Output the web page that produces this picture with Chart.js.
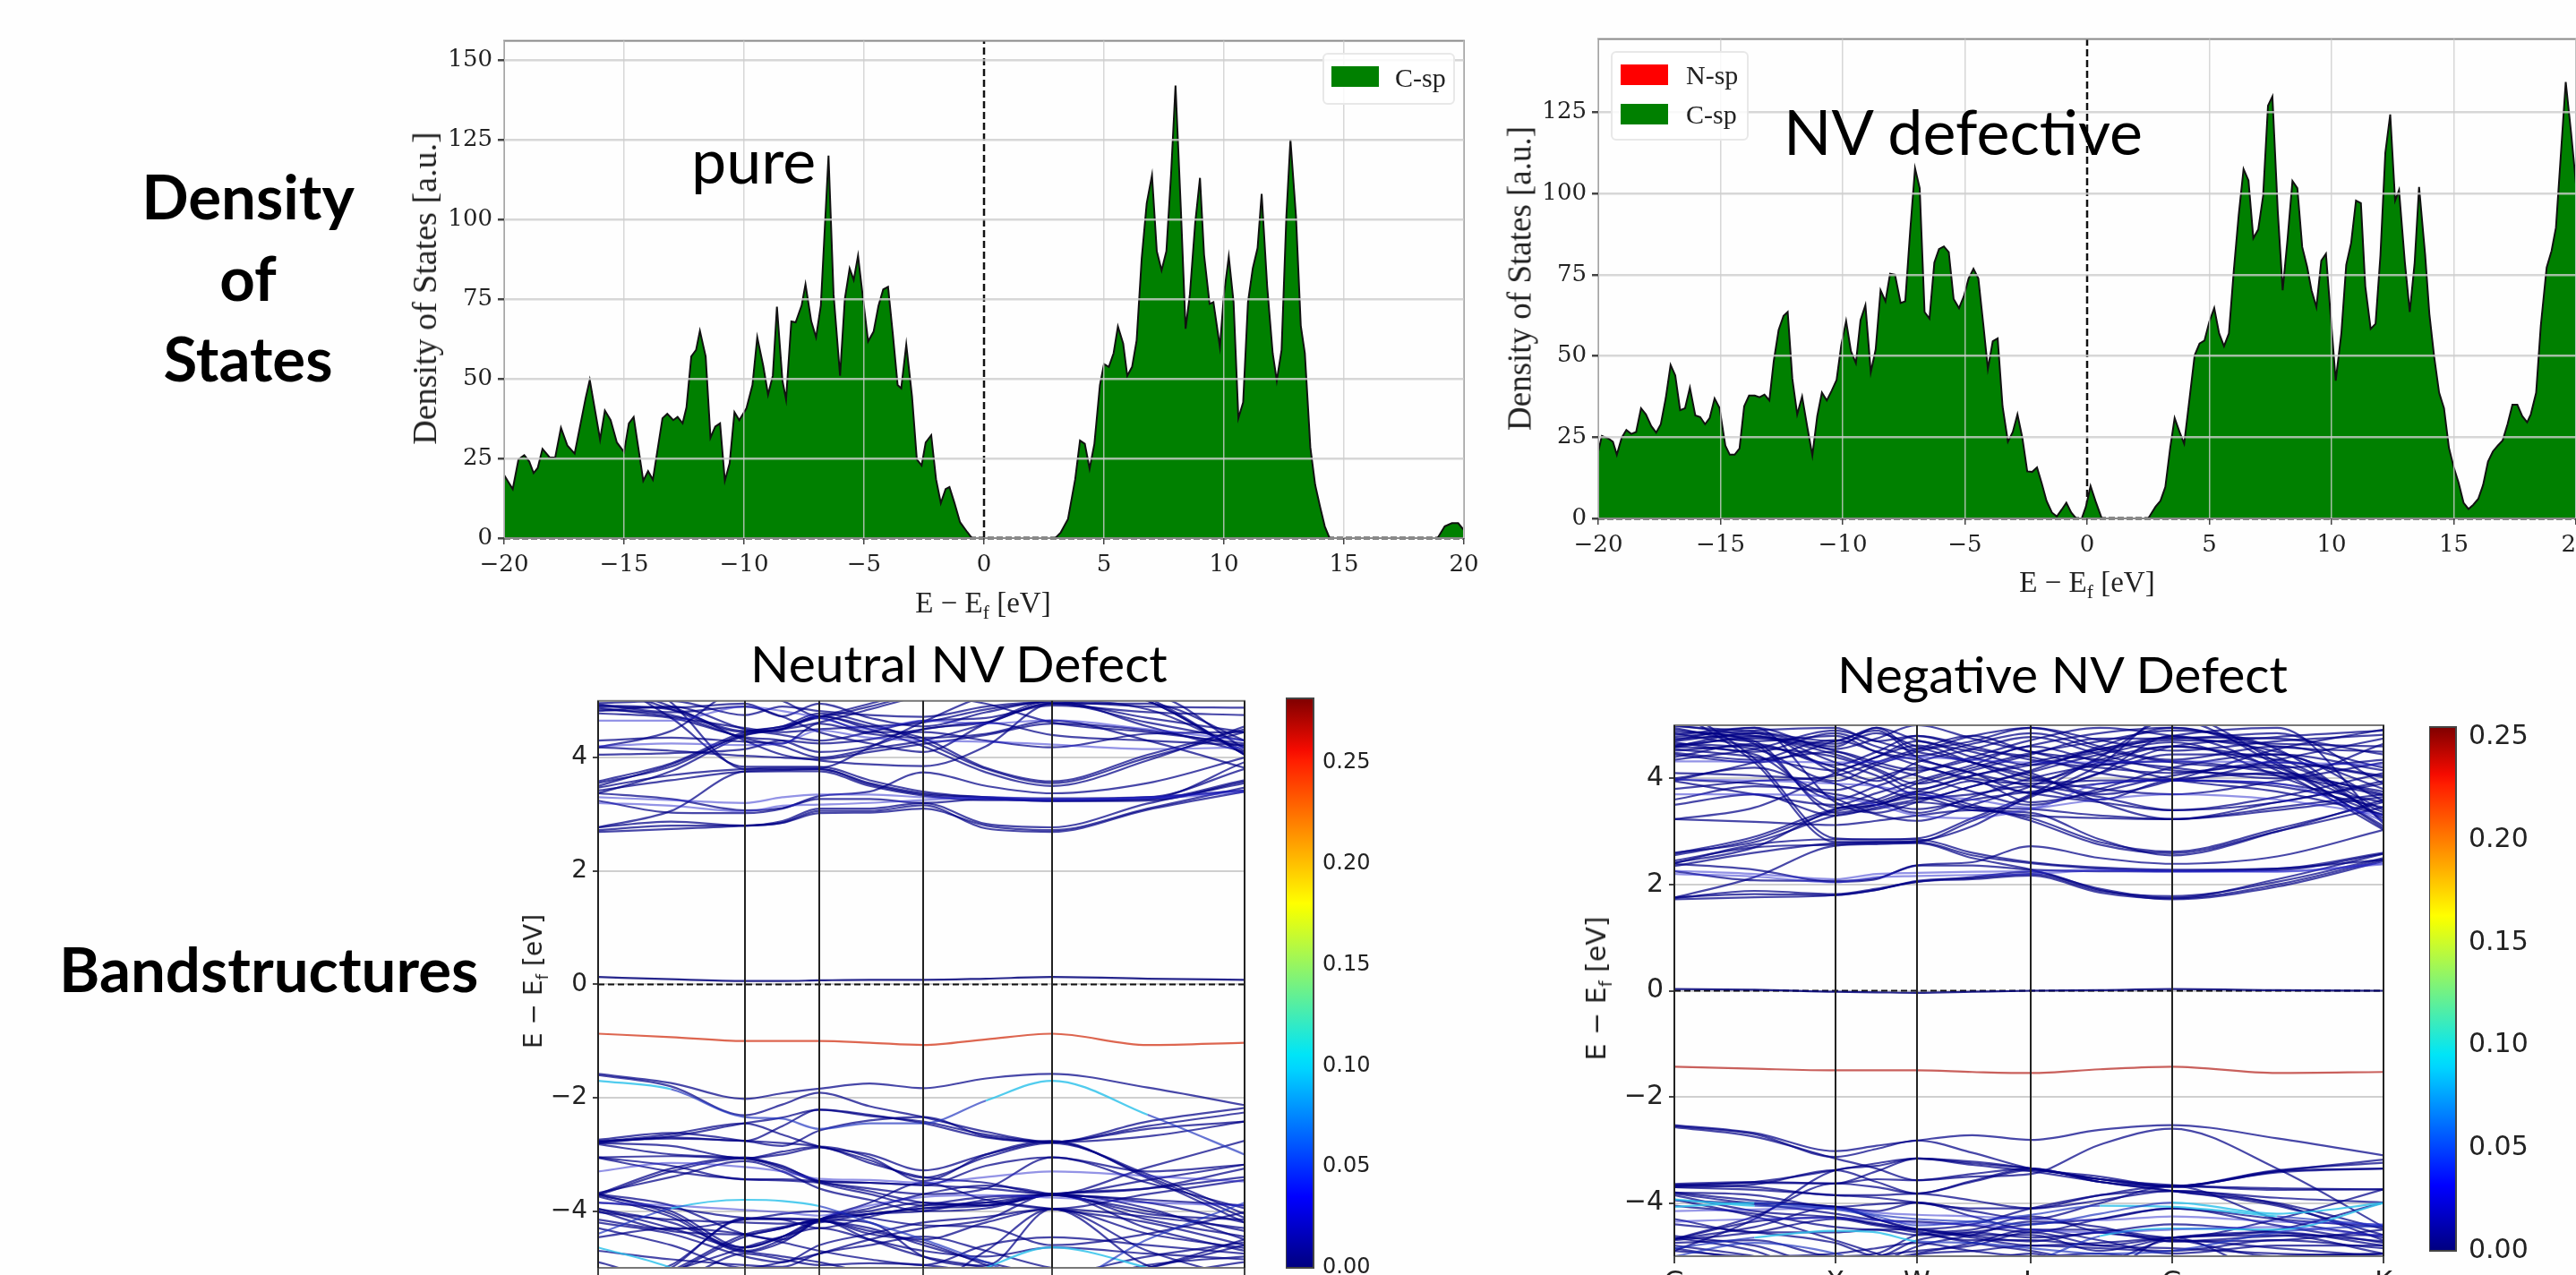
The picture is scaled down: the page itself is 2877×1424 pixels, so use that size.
<!DOCTYPE html>
<html>
<head>
<meta charset="utf-8">
<script src="https://cdn.jsdelivr.net/npm/chart.js@4/dist/chart.umd.min.js"></script>
<style>
  html, body { margin: 0; padding: 0; width: 2877px; height: 1424px; overflow: hidden; background: #fefefe; }
  canvas { position: absolute; }
  .note { position: absolute; color: #000; white-space: nowrap; font-family: Lato, sans-serif; line-height: 1; z-index: 5; }
  .side { font-weight: 700; font-size: 69px; text-align: center; }
  .head { font-size: 57px; }
  .inset { font-size: 70px; }
  .axis { font-family: "Liberation Serif", serif; font-size: 33px; color: #222; }
  .axis-y { font-size: 38px; }
  .axis2 { font-family: "DejaVu Sans", sans-serif; font-size: 28px; color: #222; }
  .rot { transform: translate(-50%, -50%) rotate(-90deg); }
  .mid { transform: translate(-50%, -50%); }
  sub { font-size: 65%; line-height: 0; }
  .legend { position: absolute; z-index: 4; background: rgba(255,255,255,.85); border: 2px solid #e8e8e8; border-radius: 6px; }
  .swatch { position: absolute; width: 53px; height: 23px; }
  .entry { position: absolute; font-family: "Liberation Serif", serif; font-size: 30px; line-height: 1; color: #222; }
</style>
</head>
<body>
<div class="note side" style="left:277px;top:184px;transform:translateX(-50%)">Density</div>
<div class="note side" style="left:277px;top:275px;transform:translateX(-50%)">of</div>
<div class="note side" style="left:277px;top:365px;transform:translateX(-50%)">States</div>
<div class="note side" style="left:66px;top:1047px">Bandstructures</div>

<div class="note inset" style="left:772px;top:143px">pure</div>
<div class="note inset" style="left:1992px;top:111px">NV defective</div>
<div class="note head" style="left:838px;top:712px">Neutral NV Defect</div>
<div class="note head" style="left:2052px;top:724px">Negative NV Defect</div>

<div class="note axis axis-y rot" style="left:474px;top:322px">Density of States [a.u.]</div>
<div class="note axis mid" style="left:1098px;top:673px">E − E<sub>f</sub> [eV]</div>
<div class="note axis axis-y rot" style="left:1697px;top:311px;font-size:37px">Density of States [a.u.]</div>
<div class="note axis mid" style="left:2331px;top:650px">E − E<sub>f</sub> [eV]</div>
<div class="note axis2 rot" style="left:596px;top:1096px">E − E<sub>f</sub> [eV]</div>
<div class="note axis2 rot" style="left:1783px;top:1104px;font-size:30px">E − E<sub>f</sub> [eV]</div>

<div class="legend" style="left:1477px;top:59px;width:144px;height:54px">
  <div class="swatch" style="left:8px;top:13px;background:#008000"></div>
  <div class="entry" style="left:79px;top:11px">C-sp</div>
</div>
<div class="legend" style="left:1799px;top:57px;width:150px;height:96px">
  <div class="swatch" style="left:9px;top:13px;background:#ff0000"></div>
  <div class="entry" style="left:82px;top:10px">N-sp</div>
  <div class="swatch" style="left:9px;top:57px;background:#008000"></div>
  <div class="entry" style="left:82px;top:54px">C-sp</div>
</div>

<script>
// density of states
const pureEnergy = [-20,-19.64,-19.4,-19.16,-18.95,-18.77,-18.6,-18.4,-18.1,-17.87,-17.63,-17.36,-17.06,-16.6,-16.43,-16,-15.8,-15.56,-15.3,-15,-14.8,-14.6,-14.2,-14,-13.8,-13.4,-13.2,-12.95,-12.77,-12.56,-12.4,-12.2,-12,-11.84,-11.6,-11.4,-11.2,-11,-10.8,-10.6,-10.4,-10.2,-9.9,-9.65,-9.45,-9.2,-9,-8.8,-8.63,-8.4,-8.25,-8.03,-7.85,-7.6,-7.44,-7.2,-7,-6.8,-6.48,-6.27,-6,-5.8,-5.6,-5.43,-5.25,-5.04,-4.83,-4.6,-4.4,-4.2,-4,-3.8,-3.6,-3.45,-3.24,-3,-2.8,-2.6,-2.43,-2.2,-2,-1.8,-1.6,-1.44,-1.23,-1,-0.7,-0.5,2.97,3.2,3.5,3.8,4,4.2,4.4,4.6,4.83,5,5.2,5.4,5.58,5.8,5.97,6.17,6.36,6.57,6.78,7,7.2,7.4,7.6,7.8,7.98,8.2,8.4,8.58,8.8,9,9.17,9.4,9.56,9.83,10,10.2,10.4,10.6,10.8,11,11.2,11.4,11.57,11.8,12.03,12.2,12.4,12.6,12.77,13,13.2,13.37,13.6,13.8,14,14.2,14.4,18.9,19.2,19.5,19.76,20];
const pureDos = [19.8,15.4,24.7,26,24,20.4,22,28,25.3,25.3,34.6,29,26.5,44,49.6,30.9,40,37,30,27,36,38,18,21,18.3,37.6,39,37,38,36,41,57,59,65,57,31.5,35,36,18,23.5,39.5,37,40.7,48,63,54,45,51,72.6,49.4,43.5,68,67.7,73,79.6,68,63,73,120,76.5,50.9,75,84.6,81,88.6,75,61.7,64.8,72.8,78,78.8,64,48,47,60.7,44.4,24.7,22.8,30,32.3,18.5,11,15.4,16,11,5,1.9,0,0,1.8,6,18.5,30.6,29.6,21.8,29.6,48,54.6,53.7,58,66.4,61,50.9,53.7,62,87.6,105,113.8,90,84,90,114.8,142,103.7,65.7,76.5,98.8,113,88.9,73.5,74,60,76.5,88.3,74,37.6,42.6,74,84.6,91,108,79,58,49.4,59,101,125,101,66.7,58,28.4,16.7,10,3.7,0,0,3.7,4.7,4.7,2.5];

const nvEnergy = [-20,-19.85,-19.55,-19.4,-19.24,-19.04,-18.85,-18.65,-18.45,-18.25,-18.05,-17.83,-17.63,-17.44,-17.24,-17.04,-16.85,-16.65,-16.45,-16.25,-16.03,-15.83,-15.63,-15.44,-15.24,-15.04,-14.8,-14.62,-14.42,-14.22,-14.03,-13.83,-13.6,-13.4,-13.2,-13,-12.82,-12.62,-12.42,-12.25,-12.06,-11.86,-11.66,-11.44,-11.24,-11.04,-10.85,-10.65,-10.45,-10.25,-10.06,-9.86,-9.66,-9.46,-9.27,-9.07,-8.85,-8.65,-8.45,-8.25,-8.06,-7.86,-7.63,-7.44,-7.24,-7.04,-6.85,-6.65,-6.45,-6.25,-6.06,-5.86,-5.66,-5.46,-5.24,-5.04,-4.85,-4.65,-4.45,-4.25,-4.06,-3.86,-3.66,-3.46,-3.24,-3.04,-2.85,-2.65,-2.45,-2.25,-2.05,-1.86,-1.66,-1.44,-1.24,-1.04,-0.85,-0.65,-0.45,-0.22,-0.05,0.14,0.34,0.6,2.5,2.8,3,3.2,3.4,3.58,3.78,3.97,4.2,4.4,4.6,4.8,5,5.2,5.4,5.6,5.8,6,6.2,6.4,6.6,6.8,7,7.2,7.4,7.58,7.8,8,8.2,8.4,8.6,8.8,9,9.18,9.38,9.58,9.77,9.97,10.17,10.4,10.6,10.8,11,11.2,11.38,11.6,11.8,12,12.2,12.4,12.6,12.76,13,13.2,13.4,13.58,13.83,14,14.2,14.4,14.6,14.8,15,15.2,15.4,15.6,15.8,16,16.2,16.4,16.6,16.8,17,17.2,17.4,17.6,17.8,18,18.15,18.37,18.56,18.8,19,19.18,19.58,19.8,20];
const nvDos = [20.6,25.4,24.4,23.6,19.6,24.8,27.2,26,26.6,33.9,32,28.4,26.4,29,36.9,47.2,44,33.3,33.9,40.2,31.7,31.2,29,30.9,36.9,34,22.4,19.6,19.6,21.5,34.5,37.8,37.8,37.3,38.1,36.3,48.4,58,62.3,63.5,43,32,37.5,27.8,19.4,31.5,38.7,36.3,39.3,42.6,53.2,60.7,51.4,47.8,61,65.6,45,52,70.2,66.8,75.3,75,66.3,66.8,88.3,107.7,101.6,63.5,61.5,78.7,82.9,83.7,81.9,67.5,64.7,68.4,73.8,76.8,73.8,59.9,46,54.5,55.4,34.5,23.6,26.6,32,24.8,14.5,14.3,15.7,10.9,5.4,1.8,0.6,2.7,4.8,1.8,0,0,3.6,10,5.4,0,0,3.6,5.4,9.7,21.8,30.9,26.6,23,37.5,50.2,53.8,54.7,60.5,64.7,56.9,53,56.9,76.2,93.2,107.5,104,86.2,88.9,99.2,127,129.8,94.4,70.2,85.9,103.8,101.6,83.5,77.4,70.2,65,79.3,81.4,61.7,42.4,56.9,78,84.7,97.8,97,71.4,58.3,59.9,81,112.5,124.3,97.8,101,78.7,63.5,78.7,102,81,63,49.6,38.7,33.9,21.8,15.7,10.9,4.8,2.9,4.2,6,10.3,17.5,20.6,22.4,24,29,35,35,31.5,29.6,32,38.7,59.3,77.2,82.3,89.5,134.3,118.6,102.9];

const nitrogenEnergy = [-20,-1.2,-0.85,-0.5,5.8,6.2,6.6,20];
const nitrogenDos = [0.2,0,1.5,0,0,0.6,0,0];

const dosTicks = [-20,-15,-10,-5,0,5,10,15,20];
const pureYTicks = [0,25,50,75,100,125,150];
const nvYTicks = [0,25,50,75,100,125];

// band structures: energy at each k sample on the path G X W L G K
const kNodes = [0,0.227,0.342,0.503,0.702,1];
const kLabels = ['G','X','W','L','G','K'];
const kSamples = [0,0.113,0.227,0.285,0.342,0.42,0.503,0.6,0.702,0.85,1];
const bandTicks = [-4,-2,0,2,4];

const neutralGapBand = [-0.87,-0.93,-1,-1,-1,-1.03,-1.07,-0.97,-0.87,-1.07,-1.03];
const neutralDefectBand = [0.13,0.09,0.06,0.06,0.07,0.08,0.08,0.1,0.13,0.1,0.08];
const negativeGapBand = [-1.43,-1.47,-1.5,-1.5,-1.5,-1.53,-1.55,-1.48,-1.43,-1.55,-1.53];
const negativeDefectBand = [0.03,0.02,-0.02,-0.03,-0.04,-0.02,0,0.01,0.03,0.01,0];

const neutralBands = [
  [2.77,3.06,3.76,3.78,3.8,3.53,3.35,3.28,3.23,3.24,3.58],
  [2.69,2.74,2.8,2.85,3.06,3.06,3.16,2.75,2.69,3.08,3.4],
  [2.77,2.87,2.8,2.85,3.02,3.03,3.1,2.8,2.72,3.1,3.47],
  [2.72,2.8,2.8,2.88,3.1,3.1,3.2,2.83,2.77,3.19,3.55],
  [3.24,3.03,3.02,3.1,3.32,3.4,3.74,3.5,3.37,3.55,4],
  [3.37,3.27,3.07,3.11,3.27,3.27,3.2,3.27,3.25,3.27,3.92],
  [3.47,3.69,3.8,3.82,3.82,4.18,4.63,5.1,5.4,5,4.05],
  [3.37,3.76,4.39,4.5,4.73,4.55,4.34,3.82,3.58,4.05,4.5],
  [3.5,3.88,4.4,4.52,4.73,4.5,4.2,3.74,3.5,3.95,4.55],
  [3.58,3.9,4.45,4.55,4.78,4.6,4.28,3.8,3.55,4,4.45],
  [3.55,3.84,4.42,4.5,4.7,4.45,4.45,4.3,4.18,4.42,4.45],
  [5.9,4.97,3.8,3.8,3.8,3.55,3.37,3.3,3.24,3.26,3.6],
  [5.5,4.7,3.84,3.84,3.84,3.6,3.4,3.3,3.28,3.3,3.8],
  [3.42,3.6,3.75,3.76,3.76,3.5,3.33,3.25,3.25,3.3,3.42],
  [4.18,4.47,5.2,5,4.73,4.9,5.1,4.95,4.62,4.45,4.25],
  [4.18,4.12,4.03,4,3.97,4.1,4.24,4.4,4.6,4.48,4.2],
  [5.4,4.9,4.47,4.55,4.72,4.95,5.2,5.4,5.5,5.05,4.05],
  [5.3,4.85,4.45,4.5,4.62,4.85,5.1,5.3,5.4,5,4.07],
  [4.94,4.8,4.9,4.72,4.45,4.25,4.1,4.6,5,4.55,4.1],
  [4.9,4.88,4.95,4.73,4.95,4.7,4.55,4.8,5,4.85,4.12],
  [4.96,5,4.75,4.9,4.82,4.75,4.72,4.9,5,5.1,4.16],
  [4.85,4.75,4.34,4.2,4,4.15,4.3,4.6,4.95,4.95,4.3],
  [4.78,4.7,4.36,4.3,4.1,4.2,4.5,4.62,4.96,4.7,4.45],
  [4.82,4.9,4.5,4.4,4.3,4.45,4.65,4.7,4.92,4.8,4.75],
  [4.88,4.72,4.52,4.45,4.5,4.55,4.62,4.85,4.98,4.9,4.88],
  [4.92,4.85,4.3,4.05,3.95,3.88,3.85,4.2,4.95,4.62,4.3],
  [4.05,4.08,4.15,4.3,4.25,4.32,4.5,4.62,4.4,4.3,4.22],
  [4.3,4.35,4.28,4.25,4.6,4.42,4.35,4.42,4.65,4.3,3.82],
];
const neutralBandsLight = [
  [4.65,4.65,4.9,4.82,4.7,4.5,4.65,4.6,4.66,4.5,4.3],
  [3.3,3.25,3.2,3.3,3.35,3.35,3.3,3.27,3.25,3.3,3.42],
  [3.2,3.15,3.05,3.15,3.17,3.2,3.25,3.3,3.27,3.28,3.39],
  [4.2,4.25,4.22,4.25,4.48,4.35,4.3,4.28,4.23,4.15,4.18],
];
const neutralValence = [
  [-1.58,-1.74,-2.02,-1.92,-1.84,-1.75,-1.83,-1.66,-1.58,-1.82,-2.13],
  [-1.6,-1.8,-2.31,-2.12,-1.91,-2.15,-2.34,-2.6,-2.78,-2.42,-2.18],
  [-2.78,-2.68,-2.45,-2.35,-2.21,-2.3,-2.45,-2.7,-2.78,-2.5,-2.26],
  [-2.8,-2.7,-2.76,-2.5,-2.21,-2.32,-2.42,-2.65,-2.78,-2.55,-2.42],
  [-2.74,-2.62,-2.76,-2.85,-2.58,-2.4,-2.34,-2.68,-2.78,-2.68,-2.42],
  [-2.78,-2.64,-2.45,-2.65,-2.86,-3,-3.28,-3,-2.78,-3.39,-4.12],
  [-2.76,-2.72,-2.76,-2.8,-2.86,-3.1,-3.41,-3.05,-2.8,-3.35,-4.05],
  [-2.8,-2.85,-3.07,-2.95,-2.86,-3.05,-3.47,-3,-2.76,-3.42,-4.2],
  [-2.82,-3,-3.07,-3.2,-3.47,-3.5,-3.54,-3.2,-3.05,-3.3,-3.18],
  [-3.05,-3.03,-3.07,-3,-2.88,-3.15,-3.4,-3.5,-3.7,-3.23,-2.76],
  [-3.05,-3.2,-3.44,-3.44,-3.47,-3.5,-3.54,-3.6,-3.7,-3.45,-3.18],
  [-3.06,-3.3,-3.44,-3.46,-3.5,-3.6,-3.7,-3.6,-3.05,-3.5,-3.95],
  [-3.7,-3.25,-3.05,-3.22,-3.47,-3.65,-3.85,-3.9,-3.7,-3.6,-3.4],
  [-3.72,-3.3,-3.07,-3.25,-3.5,-3.7,-3.9,-3.85,-3.96,-3.7,-3.45],
  [-3.68,-3.4,-3.12,-3.3,-3.6,-3.8,-4,-3.95,-3.72,-3.85,-4.2],
  [-3.7,-3.9,-4.41,-4.5,-4.15,-3.95,-3.7,-3.55,-3.7,-4,-4.35],
  [-3.72,-4,-4.64,-4.45,-4.15,-3.85,-3.5,-3.8,-3.96,-4.2,-4.6],
  [-3.7,-4.05,-4.7,-4.5,-4.15,-4,-3.85,-3.9,-3.7,-4.3,-4.7],
  [-3.74,-4.1,-4.72,-4.55,-4.17,-4.05,-3.95,-3.85,-3.72,-4.05,-4.15],
  [-3.96,-4.2,-4.64,-4.45,-4.17,-4.35,-4.5,-4.2,-3.96,-4.4,-4.65],
  [-3.96,-4.3,-4.7,-4.8,-4.9,-5.1,-5.3,-4.7,-3.96,-4.7,-5.2],
  [-4,-4.35,-4.41,-4.3,-4.15,-4.2,-4.8,-4.96,-3.96,-4.96,-5.2],
  [-4.46,-4.3,-4.41,-4.55,-4.7,-4.85,-4.95,-4.6,-4.46,-4.6,-4.75],
  [-5.6,-5,-4.12,-4.13,-4.15,-4.5,-4.8,-5,-5.3,-5,-4.5],
  [-5.4,-4.95,-4.14,-4.14,-4.17,-4.3,-4.6,-4.9,-5.1,-4.8,-4.55],
  [-5.5,-5.05,-4.41,-4.28,-4.15,-4.05,-3.95,-3.9,-3.7,-3.95,-4.5],
  [-5.7,-5.1,-4.45,-4.3,-4.17,-4.4,-4.55,-4.95,-5.3,-5,-4.6],
  [-5.3,-5.05,-4.64,-4.45,-4.3,-4.5,-4.7,-4.8,-4.64,-4.75,-4.85],
  [-4.7,-4.85,-4.95,-4.98,-4.75,-4.6,-4.45,-4.7,-5,-5.1,-4.9],
  [-4.9,-5.2,-4.75,-4.85,-4.95,-4.92,-4.95,-5.1,-5.3,-4.95,-4.8],
  [-4.2,-4.4,-4.8,-4.9,-4.6,-4.4,-4.2,-4.1,-3.96,-4.1,-4.3],
  [-4.3,-4.6,-5,-4.9,-4.75,-4.5,-4.3,-4.15,-3.7,-4.15,-4.45],
  [-3.85,-3.95,-4.12,-4.15,-4.3,-4.1,-3.9,-3.75,-3.72,-3.8,-3.9],
  [-4.02,-4.15,-4.2,-4.22,-4.2,-4.05,-4,-3.8,-3.7,-3.6,-3.25],
  [-4.15,-4.32,-4.15,-4.05,-4,-4.12,-4.25,-4.28,-4.6,-4.4,-4.02],
];
const neutralValenceLight = [
  [-3.3,-3.15,-3.22,-3.3,-3.43,-3.45,-3.5,-3.4,-3.3,-3.38,-3.48],
  [-3.85,-3.9,-3.98,-4.02,-4.08,-3.9,-3.75,-3.72,-3.76,-3.85,-3.9],
];
const neutralValenceCyan = [
  [-1.7,-1.85,-2.34,-2.37,-2.55,-2.45,-2.45,-2.05,-1.7,-2.3,-3],
  [-4.4,-3.95,-3.8,-3.82,-3.91,-4.2,-4.5,-4.9,-5.3,-4.5,-3.85],
  [-4.64,-5,-5.6,-5.6,-5.5,-5.6,-5.5,-5,-4.64,-5,-5.5],
];
// 1 where the band leaving that k sample shows the lighter cyan colour
const neutralCyanMask = [
  [1,0,0,0,0,0,0,1,1,0,0],
  [0,1,1,1,0,0,0,0,0,0,0],
  [1,1,0,0,0,0,0,1,1,0,0],
];

const negativeBands = [
  [1.75,2.14,2.73,2.76,2.78,2.5,2.28,1.92,1.75,2.1,2.58],
  [1.72,1.76,1.8,1.9,2.05,2.1,2.17,1.85,1.74,2,2.47],
  [1.76,1.82,1.8,1.9,2.07,2.12,2.2,1.88,1.78,2.05,2.5],
  [1.74,1.88,1.82,1.92,2.05,2.14,2.24,1.9,1.72,1.96,2.44],
  [2.25,2.08,2.07,2.12,2.36,2.42,2.72,2.5,2.39,2.53,3.03],
  [2.39,2.28,2.05,2.1,2.36,2.36,2.28,2.25,2.25,2.27,2.58],
  [2.41,2.7,3.42,3.55,3.75,3.5,3.2,2.75,2.59,3,3.46],
  [2.58,2.9,3.42,3.5,3.7,3.45,3.25,2.8,2.62,3.05,3.55],
  [2.55,2.85,3.38,3.5,3.65,3.4,3.35,2.85,2.55,3,3.6],
  [2.6,2.8,3.3,3.42,3.55,3.45,3.42,3.3,3.23,3.45,3.7],
  [2.45,2.7,2.75,2.78,2.8,3.2,3.65,4.25,5.2,4.3,3.06],
  [2.4,2.75,2.85,2.85,2.87,3.25,3.7,4.4,5.1,4.25,3.1],
  [2.35,2.6,2.78,2.8,2.82,3.1,3.68,4.1,4.8,4.15,3.03],
  [5.4,4.37,2.87,2.85,2.85,2.6,2.42,2.32,2.28,2.3,2.6],
  [5.3,4.3,2.8,2.8,2.8,2.55,2.4,2.3,2.26,2.3,2.47],
  [3.23,3.45,4.1,4.4,4.7,4.4,4.1,3.55,3.23,3.55,3.9],
  [3.23,3.18,3.12,3.2,3.3,3.4,3.3,3.25,3.23,3.4,3.65],
  [3.96,4.3,4.72,4.5,4.25,4,3.9,3.96,3.96,3.9,3.55],
  [3.98,3.9,3.7,3.55,3.42,3.6,3.75,3.9,3.98,4.1,3.7],
  [3.95,3.7,3.5,3.72,3.95,4.25,4.6,4.3,3.98,3.75,3.32],
  [4,4.2,3.62,3.32,3.2,3.5,3.85,4.35,4.6,4.2,3.36],
  [4.6,4.85,4.1,3.85,3.62,3.85,4.15,4.6,4.95,4.4,3.4],
  [4.6,4.45,3.6,3.85,4.1,4.4,4.72,4.95,4.8,4.5,3.8],
  [4.62,4.75,4.45,4.18,3.9,4.15,4.45,4.75,4.75,4.85,3.9],
  [4.55,4.4,4.15,4.4,4.62,4.3,3.95,4.3,4.6,4.35,4.02],
  [4.65,4.55,3.95,4.25,4.5,4.7,4.95,4.6,4.35,4.6,4.2],
  [4.7,4.85,4.6,4.95,4.72,4.5,4.25,4.55,4.77,4.75,4.45],
  [4.85,4.6,4.4,4.15,3.8,4.05,4.3,4.55,4.72,4.65,4.6],
  [4.95,4.7,4.8,4.5,4.35,4.1,3.72,4.1,4.45,4.45,4.15],
  [4.78,4.9,4.95,4.7,4.8,4.55,4.4,4.1,3.96,4.35,4.75],
  [4.35,4.55,4.9,4.7,4.5,4.3,4,3.8,3.7,3.95,4.3],
  [4.4,4.65,4.25,4.5,4.8,4.6,4.35,4.2,4.1,4.3,4.05],
  [3.8,3.95,4.05,4.3,4.55,4.8,4.5,4.35,4.2,4,4.65],
  [3.6,3.85,3.78,4,4.2,3.95,3.72,3.55,3.4,3.55,3.95],
  [3.5,3.7,3.3,3.45,3.6,3.7,3.85,3.65,3.4,3.65,4.1],
  [4.1,4.05,3.9,3.6,3.35,3.65,4,4.25,4.32,4.1,3.75],
  [5,4.8,4.52,4.25,4.05,3.75,3.5,3.8,4.2,4.45,3.58],
  [4.45,4.3,4.7,4.9,4.4,4.1,3.85,3.6,3.96,3.85,3.45],
  [4.75,4.8,4.3,4.05,3.7,3.95,3.55,3.75,4.05,4.25,3.25],
  [4.88,4.7,3.35,3.5,3.75,4.05,4.25,4.5,4.8,4.95,3.15],
  [4.92,4.65,3.45,3.6,3.9,4.2,4.48,4.7,4.9,4.55,3.2],
  [4.72,4.95,3.55,3.35,3.55,3.85,4.12,4.45,4.68,4.05,3.3],
  [4.82,4.95,4.55,4.75,5,4.75,4.5,4.25,4.6,4.78,4.9],
  [4.58,4.78,4.65,4.85,4.6,4.3,4.05,3.7,3.96,4.55,4.92],
  [4.68,4.5,4.85,4.6,4.42,4.65,4.85,4.55,4.3,4.2,4.35],
  [4.48,4.35,4.5,4.3,4.15,4.35,4.62,4.85,4.95,4.6,4.5],
  [4.98,4.88,4.7,4.95,4.55,4.8,4.95,4.72,4.52,4.7,4.82],
  [4.52,4.62,4.2,3.95,4.3,4.55,4.78,4.45,4.15,4.05,3.68],
];
const negativeBandsLight = [
  [4.32,4.32,4.3,4.32,4.4,4.35,4.3,4.3,4.32,4.3,4.25],
  [3.7,3.7,3.65,3.5,3.3,3.25,3.42,3.6,3.7,3.6,3.3],
  [3.98,3.96,3.9,3.85,3.7,3.6,3.45,3.9,3.96,3.9,3.2],
  [2.26,2.2,2.1,2.2,2.22,2.24,2.25,2.28,2.26,2.25,2.4],
  [2.2,2.15,2.04,2.14,2.16,2.18,2.2,2.26,2.24,2.24,2.38],
];
const negativeValence = [
  [-2.53,-2.68,-3.02,-2.92,-2.82,-2.72,-2.81,-2.62,-2.53,-2.78,-3.1],
  [-2.55,-2.7,-3.13,-2.98,-2.82,-3.05,-3.35,-3.5,-3.68,-3.4,-3.18],
  [-2.57,-2.75,-3.16,-3.35,-3.57,-3.5,-3.45,-2.9,-2.6,-3.35,-4.45],
  [-3.66,-3.6,-3.38,-3.25,-3.16,-3.22,-3.35,-3.55,-3.68,-3.38,-3.24],
  [-3.68,-3.62,-3.63,-3.4,-3.16,-3.25,-3.35,-3.55,-3.7,-3.4,-3.35],
  [-3.64,-3.6,-3.63,-3.55,-3.57,-3.45,-3.35,-3.6,-3.68,-3.42,-3.35],
  [-3.7,-3.65,-3.38,-3.6,-3.82,-3.6,-3.38,-3.55,-3.66,-3.72,-3.74],
  [-4.68,-4.25,-3.63,-3.7,-3.82,-3.58,-3.35,-3.6,-3.77,-4,-4.49],
  [-4.9,-4.3,-3.38,-3.3,-3.16,-3.28,-3.4,-3.6,-3.77,-4.05,-4.6],
  [-3.66,-3.7,-3.85,-3.85,-3.82,-3.95,-4.1,-3.85,-3.77,-4.02,-4.7],
  [-3.7,-3.75,-3.85,-3.9,-3.99,-4.1,-4.1,-3.95,-3.77,-3.9,-3.99],
  [-3.8,-3.85,-4.07,-4.02,-3.99,-4.15,-4.3,-4,-3.68,-3.75,-3.74],
  [-3.8,-3.95,-4.07,-4.15,-3.99,-4.25,-4.5,-4.5,-4.65,-4.3,-3.74],
  [-3.82,-4,-4.07,-4.3,-4.49,-4.65,-4.8,-4.75,-4.65,-4.5,-3.99],
  [-3.85,-4.15,-4.27,-4.38,-4.49,-4.4,-4.1,-3.85,-3.68,-4.3,-4.65],
  [-4.68,-4.35,-4.27,-4.4,-4.49,-4.6,-4.6,-4.9,-4.65,-4.55,-4.8],
  [-4.68,-4.45,-4.07,-4.3,-4.52,-4.7,-4.7,-4.8,-4.65,-4.6,-4.95],
  [-4.7,-4.55,-4.3,-4.42,-4.55,-4.75,-4.9,-5.1,-4.7,-4.85,-5],
  [-4.75,-4.7,-5,-4.95,-4.6,-4.5,-4.25,-4.55,-4.68,-5,-4.95],
  [-4.65,-4.9,-5.4,-5.15,-4.82,-4.6,-4.35,-4.45,-4.72,-4.7,-4.5],
  [-4.62,-4.8,-5.2,-5,-4.9,-4.8,-4.55,-4.8,-4.85,-4.95,-5],
  [-4.8,-5,-5.3,-5.1,-4.95,-4.75,-4.5,-4.7,-4.95,-4.8,-4.8],
  [-4.85,-5.1,-5.5,-5.2,-4.97,-4.9,-4.8,-4.85,-4.9,-4.7,-4.85],
  [-4.9,-5,-4.95,-4.85,-4.75,-4.9,-5,-4.95,-5.1,-5,-4.95],
  [-4.05,-4.2,-4.45,-4.5,-4.49,-4.62,-4.72,-4.55,-4.72,-4.62,-4.6],
  [-3.95,-4.02,-4.2,-4.32,-4.35,-4.42,-4.55,-4.3,-4.1,-4.42,-4.75],
  [-3.93,-4.25,-4.7,-4.95,-5.2,-5.1,-4.95,-5.3,-4.65,-5.3,-5.2],
  [-4.4,-4.55,-4.75,-5,-4.7,-4.55,-4.4,-4.3,-4.1,-4.3,-4.45],
  [-4.3,-4.55,-4.55,-4.5,-4.6,-4.55,-4.65,-4.55,-4.4,-4.55,-4.72],
];
const negativeValenceLight = [
  [-4.15,-4.12,-4.1,-4.18,-4.22,-4.25,-4.3,-4.32,-4.25,-4.35,-4.4],
  [-4.35,-4.3,-4.28,-4.32,-4.38,-4.4,-4.5,-4.55,-4.5,-4.45,-4.62],
];
const negativeValenceCyan = [
  [-3.93,-4.05,-4.1,-4.22,-4.3,-4.35,-4.4,-4.2,-3.99,-4.2,-4],
  [-4.07,-4,-4.12,-4.25,-4.42,-4.35,-4.22,-4.05,-4.07,-4.25,-4.42],
  [-4.85,-4.65,-4.52,-4.55,-4.72,-4.75,-4.85,-4.95,-4.9,-4.55,-4.42],
  [-5,-4.75,-4.95,-5.2,-5.3,-5.2,-5.1,-4.62,-4.48,-4.5,-4],
];
const negativeCyanMask = [
  [1,0,0,0,0,0,0,0,1,1,0],
  [1,0,0,0,0,0,0,1,1,0,0],
  [0,1,1,1,0,0,0,0,0,0,0],
  [0,0,0,0,0,0,0,1,1,1,0],
];

const neutralBarMax = 0.282;
const negativeBarMax = 0.2549;
const barTicks = [0,0.05,0.1,0.15,0.2,0.25];
const jetStops = [0,0.11,0.125,0.35,0.375,0.625,0.64,0.89,0.91,1];
const jetColors = ['#00007f','#0000f1','#0000ff','#00d5ff','#00e5f7','#f0ff07','#ffff00','#ff1e00','#f50b00','#7f0000'];

const NAVY = 'rgba(0,0,135,.72)';
const LIGHT = 'rgba(40,40,205,.5)';
const CYAN = 'rgba(50,195,235,.85)';
const MID_BLUE = 'rgba(30,50,190,.68)';
const DOS_GRID = 'rgba(205,205,205,.8)';
const TICK_FONT = { family: '"DejaVu Serif", serif', size: 26 };
const BAND_FONT = { family: '"DejaVu Sans", sans-serif', size: 28 };

// frame round the plot area, the axes only give two sides
const framePlugin = {
  id: 'frame',
  afterDatasetsDraw(chart, args, opts) {
    const { ctx, chartArea: a } = chart;
    ctx.save();
    ctx.strokeStyle = opts.color || '#888';
    ctx.lineWidth = opts.width || 2;
    ctx.strokeRect(a.left, a.top, a.right - a.left, a.bottom - a.top);
    ctx.restore();
  },
};

function addCanvas(plot, axisLeft, axisBottom, right) {
  const c = document.createElement('canvas');
  const top = 20;
  c.width = plot.right - plot.left + axisLeft + right;
  c.height = plot.bottom - plot.top + axisBottom + top;
  c.style.left = (plot.left - axisLeft) + 'px';
  c.style.top = (plot.top - top) + 'px';
  document.body.appendChild(c);
  return c.getContext('2d');
}

function zipXY(xs, ys) {
  return xs.map((x, i) => ({ x, y: ys[i] }));
}

function minusSign(v) {
  return String(v).replace('-', '\u2212');
}

// the dashed lines sit at zero, so no grid line there
function dosGridColor(c) {
  return c.tick && c.tick.value === 0 ? 'transparent' : DOS_GRID;
}

function drawDos(plot, yMax, yTicks, energy, dos, withNitrogen) {
  const ctx = addCanvas(plot, 110, 70, 40);
  const datasets = [{
    data: zipXY(energy, dos),
    borderColor: '#111',
    borderWidth: 2,
    backgroundColor: '#008000',
    fill: 'origin',
    pointRadius: 0,
    tension: 0,
  }];
  if (withNitrogen) {
    datasets.push({
      data: zipXY(nitrogenEnergy, nitrogenDos),
      borderColor: '#ff0000',
      borderWidth: 1,
      backgroundColor: '#ff0000',
      fill: 'origin',
      pointRadius: 0,
    });
  }
  datasets.push({
    data: zipXY([0, 0], [0, yMax]),
    borderColor: '#111',
    borderWidth: 2.5,
    borderDash: [8, 4],
    pointRadius: 0,
  });
  datasets.push({
    data: zipXY([-20, 20], [0, 0]),
    borderColor: '#111',
    borderWidth: 3,
    borderDash: [7, 3],
    pointRadius: 0,
    clip: false,
  });
  new Chart(ctx, {
    type: 'line',
    data: { datasets },
    plugins: [framePlugin],
    options: {
      responsive: false,
      animation: false,
      layout: { autoPadding: false, padding: { top: 20, right: 40, left: 0, bottom: 0 } },
      plugins: { legend: { display: false }, tooltip: { enabled: false }, frame: { color: '#8a8a8a' } },
      scales: {
        x: {
          type: 'linear',
          min: -20,
          max: 20,
          afterBuildTicks: (s) => { s.ticks = dosTicks.map((value) => ({ value })); },
          afterFit: (s) => { s.height = 70; },
          grid: { color: dosGridColor, lineWidth: 1.5, z: 1, tickColor: '#444', tickLength: 7 },
          border: { display: false },
          ticks: { font: TICK_FONT, color: '#222', maxRotation: 0, autoSkip: false, padding: 8, callback: minusSign },
        },
        y: {
          min: 0,
          max: yMax,
          afterBuildTicks: (s) => { s.ticks = yTicks.map((value) => ({ value })); },
          afterFit: (s) => { s.width = 110; },
          grid: { color: dosGridColor, lineWidth: 2.5, z: 1, tickColor: '#444', tickLength: 7 },
          border: { display: false },
          ticks: { font: TICK_FONT, color: '#222', padding: 6 },
        },
      },
    },
  });
}

function bandSet(rows, color) {
  return rows.map((row) => ({
    data: zipXY(kSamples, row),
    borderColor: color,
    borderWidth: 2.2,
    pointRadius: 0,
    cubicInterpolationMode: 'monotone',
  }));
}

function cyanSet(rows, masks) {
  return bandSet(rows, MID_BLUE).map((set, r) => ({
    ...set,
    segment: { borderColor: (s) => (masks[r][s.p0DataIndex] ? CYAN : MID_BLUE) },
  }));
}

function drawBands(plot, font, gapBand, gapColor, defectBand, light, navy, cyan, mask) {
  const ctx = addCanvas(plot, 100, 50, 30);
  const datasets = [
    ...bandSet(light, LIGHT),
    ...cyanSet(cyan, mask),
    ...bandSet(navy, NAVY),
    ...bandSet([gapBand], gapColor),
    ...bandSet([defectBand], 'rgba(0,0,120,.85)'),
    {
      data: zipXY([0, 1], [0, 0]),
      borderColor: '#111',
      borderWidth: 2,
      borderDash: [7, 4],
      pointRadius: 0,
    },
  ];
  new Chart(ctx, {
    type: 'line',
    data: { datasets },
    plugins: [framePlugin],
    options: {
      responsive: false,
      animation: false,
      layout: { autoPadding: false, padding: { top: 20, right: 30, left: 0, bottom: 0 } },
      plugins: { legend: { display: false }, tooltip: { enabled: false }, frame: { color: '#777' } },
      scales: {
        x: {
          type: 'linear',
          min: 0,
          max: 1,
          afterBuildTicks: (s) => { s.ticks = kNodes.map((value) => ({ value })); },
          afterFit: (s) => { s.height = 50; },
          grid: { color: '#222', lineWidth: 2, z: 1, tickColor: '#444', tickLength: 8 },
          border: { display: false },
          ticks: {
            font,
            color: '#222',
            maxRotation: 0,
            autoSkip: false,
            padding: 4,
            callback: (v, i) => kLabels[i],
          },
        },
        y: {
          min: -5,
          max: 5,
          afterBuildTicks: (s) => { s.ticks = bandTicks.map((value) => ({ value })); },
          afterFit: (s) => { s.width = 100; },
          grid: { color: '#cfcfcf', lineWidth: 2, tickColor: '#444', tickLength: 6 },
          border: { display: false },
          ticks: { font, color: '#222', padding: 6, callback: minusSign },
        },
      },
    },
  });
}

function drawColorBar(plot, max, fontSize, pad) {
  const ctx = addCanvas(plot, 0, 20, 90);
  new Chart(ctx, {
    type: 'bar',
    data: {
      labels: ['weight'],
      datasets: [{
        data: [[0, max]],
        barPercentage: 1,
        categoryPercentage: 1,
        backgroundColor: (c) => {
          const a = c.chart.chartArea;
          if (!a) return jetColors[0];
          const g = c.chart.ctx.createLinearGradient(0, a.bottom, 0, a.top);
          jetStops.forEach((s, i) => g.addColorStop(s, jetColors[i]));
          return g;
        },
      }],
    },
    plugins: [framePlugin],
    options: {
      responsive: false,
      animation: false,
      layout: { autoPadding: false, padding: { top: 20, right: 0, left: 0, bottom: 20 } },
      plugins: { legend: { display: false }, tooltip: { enabled: false }, frame: { color: '#444' } },
      scales: {
        x: { display: false },
        y: {
          position: 'right',
          min: 0,
          max,
          afterBuildTicks: (s) => { s.ticks = barTicks.map((value) => ({ value })); },
          afterFit: (s) => { s.width = 90; },
          grid: { display: false, tickColor: '#333', tickLength: 6, drawOnChartArea: false },
          border: { display: false },
          ticks: {
            font: { family: '"DejaVu Sans", sans-serif', size: fontSize },
            color: '#222',
            padding: pad,
            callback: (v) => Number(v).toFixed(2),
          },
        },
      },
    },
  });
}

drawDos({ left: 563, right: 1635, top: 44, bottom: 601 }, 156, pureYTicks, pureEnergy, pureDos, false);
drawDos({ left: 1785, right: 2877, top: 42, bottom: 579 }, 147.5, nvYTicks, nvEnergy, nvDos, true);

drawBands({ left: 668, right: 1390, top: 780, bottom: 1416 }, BAND_FONT, neutralGapBand, '#dd6650', neutralDefectBand,
  [...neutralBandsLight, ...neutralValenceLight], [...neutralBands, ...neutralValence], neutralValenceCyan, neutralCyanMask);
drawBands({ left: 1870, right: 2662, top: 806, bottom: 1403 }, { family: '"DejaVu Sans", sans-serif', size: 30 }, negativeGapBand, '#c9605c', negativeDefectBand,
  [...negativeBandsLight, ...negativeValenceLight], [...negativeBands, ...negativeValence], negativeValenceCyan, negativeCyanMask);

drawColorBar({ left: 1436, right: 1467, top: 780, bottom: 1416 }, neutralBarMax, 24, 4);
drawColorBar({ left: 2713, right: 2743, top: 806, bottom: 1403 }, negativeBarMax, 30, 8);
</script>
</body>
</html>
